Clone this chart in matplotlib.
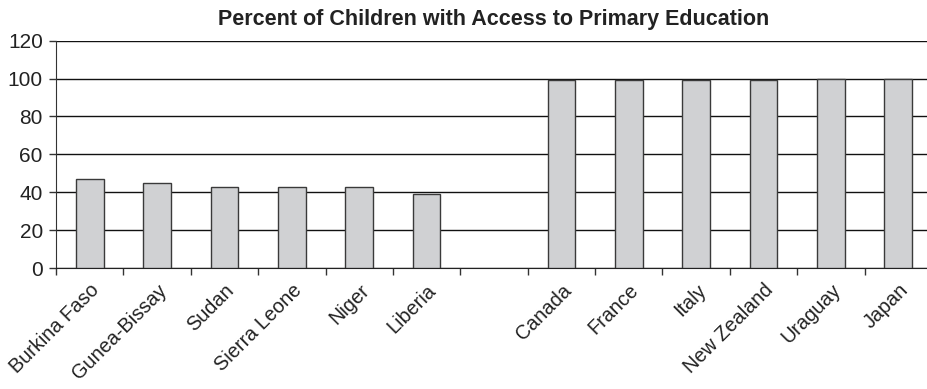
import numpy as np
import matplotlib
matplotlib.use("Agg")
import matplotlib.pyplot as plt

plt.rcParams['font.family'] = ['Liberation Sans', 'DejaVu Sans']

title = "Percent of Children with Access to Primary Education"
categories = ["Burkina Faso", "Gunea-Bissay", "Sudan", "Sierra Leone", "Niger", "Liberia",
              "", "Canada", "France", "Italy", "New Zealand", "Uraguay", "Japan"]
values = [47, 45, 43, 43, 43, 39, np.nan, 99, 99, 99, 99, 100, 100]
yticks = [0, 20, 40, 60, 80, 100, 120]

fig = plt.figure(figsize=(9.27, 3.89), dpi=100)
ax = fig.add_axes([56/927, (389-268)/389, 876/927, (268-40.7)/389])

x = np.arange(len(categories))
ax.set_axisbelow(True)
ax.yaxis.grid(True, color='#111111', linewidth=1.0)
ax.bar(x, values, width=0.41, color='#d0d1d3', edgecolor='#3a3a3a', linewidth=1.0, zorder=3)

ax.set_xlim(-0.5, len(categories) - 0.5)
ax.set_ylim(0, 120)
ax.set_yticks(yticks)
ax.set_yticklabels([str(v) for v in yticks], fontsize=15, color='#222222')

ax.set_xticks(np.arange(len(categories) + 1) - 0.5, minor=False)
ax.set_xticklabels([])
ax.set_xticks(x, minor=True)
ax.set_xticklabels(categories, minor=True, rotation=45, ha='right', rotation_mode='anchor',
                   fontsize=14.3, color='#222222')
ax.tick_params(axis='x', which='major', direction='out', length=5, width=1, color='#333333')
ax.tick_params(axis='x', which='minor', length=0, pad=9)
ax.tick_params(axis='y', direction='out', length=5, width=1, color='#333333', pad=4.5)

for s in ['top', 'right']:
    ax.spines[s].set_visible(False)
ax.spines['left'].set_color('#333333')
ax.spines['bottom'].set_color('#222222')

ax.set_title(title, fontsize=15.5, fontweight='bold', color='#222222', pad=11.5)

fig.savefig("out.png", dpi=100)
